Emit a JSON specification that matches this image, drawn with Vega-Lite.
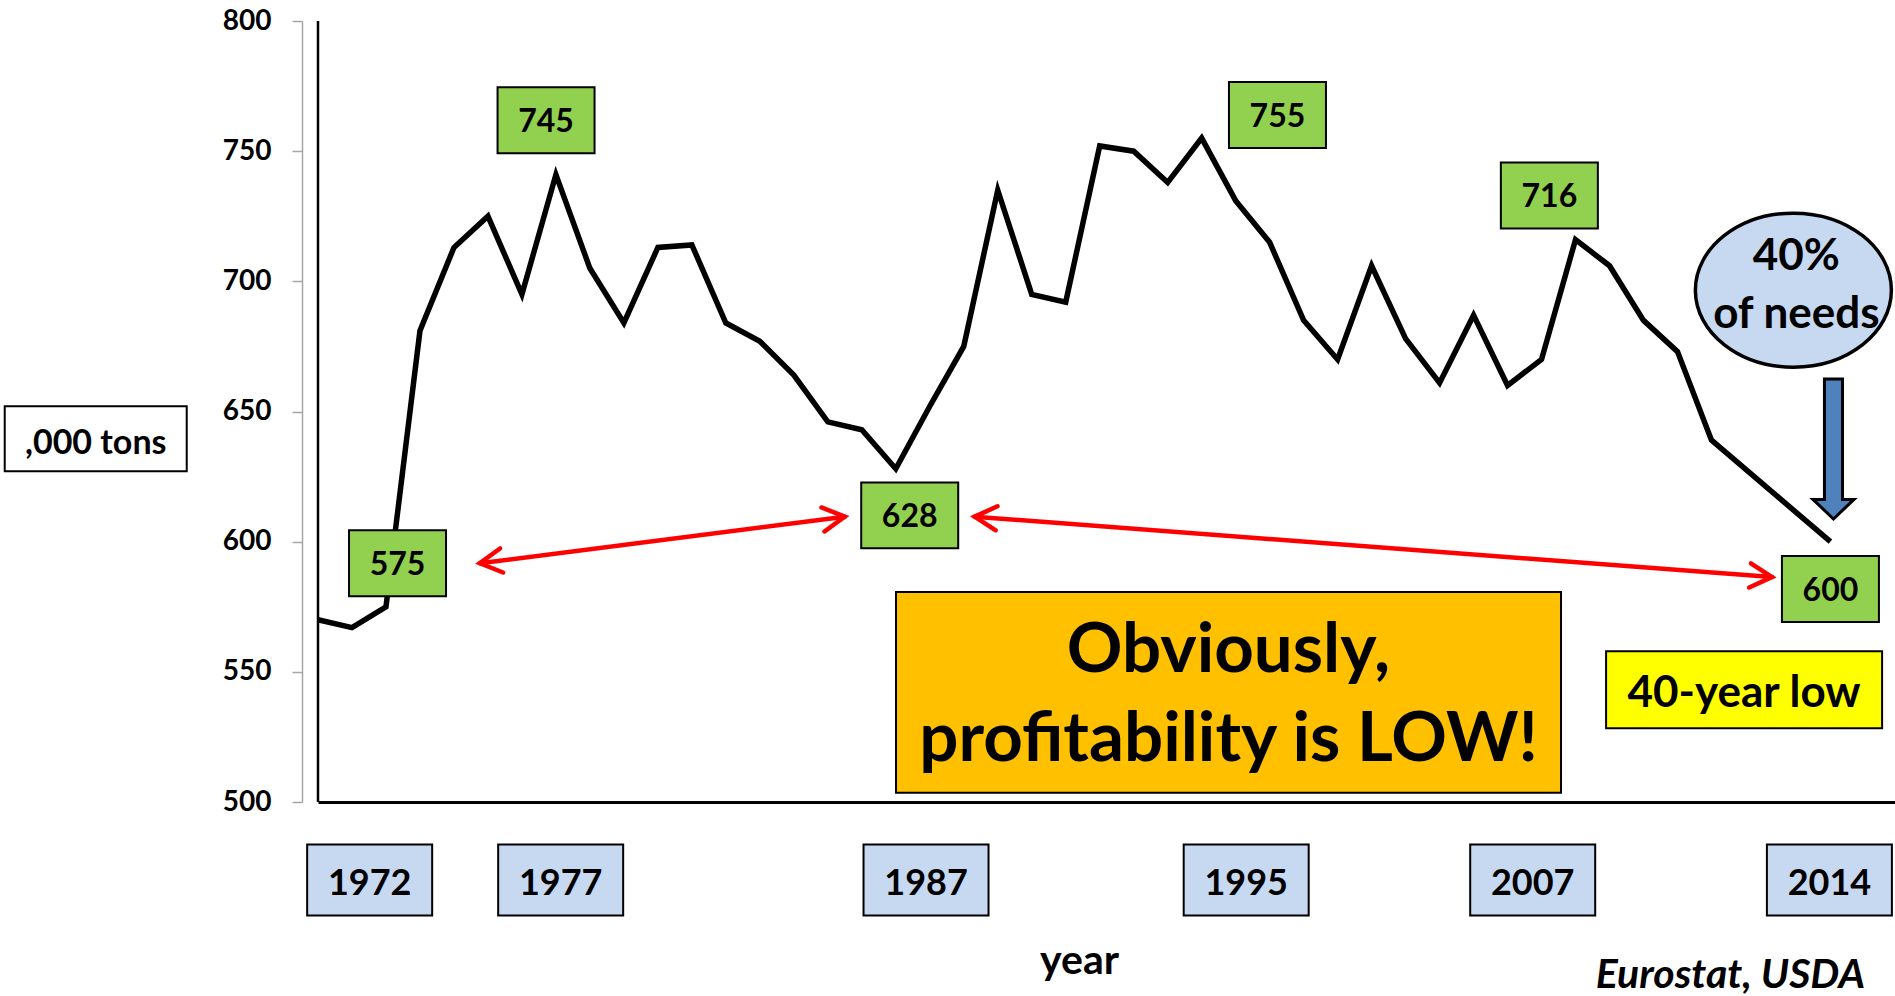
{
  "$schema": "https://vega.github.io/schema/vega-lite/v6.json",
  "width": 1577,
  "height": 781,
  "autosize": {"type": "none"},
  "padding": {"left": 318, "top": 21, "right": 0, "bottom": 194},
  "background": "white",
  "config": {"view": {"stroke": null}, "font": "Lato"},
  "datasets": {
    "series": [
      {"year": 1970, "value": 570}, {"year": 1971, "value": 567}, {"year": 1972, "value": 575},
      {"year": 1973, "value": 681}, {"year": 1974, "value": 713}, {"year": 1975, "value": 725},
      {"year": 1976, "value": 695}, {"year": 1977, "value": 741}, {"year": 1978, "value": 705},
      {"year": 1979, "value": 684}, {"year": 1980, "value": 713}, {"year": 1981, "value": 714},
      {"year": 1982, "value": 684}, {"year": 1983, "value": 677}, {"year": 1984, "value": 664},
      {"year": 1985, "value": 646}, {"year": 1986, "value": 643}, {"year": 1987, "value": 628},
      {"year": 1988, "value": 652}, {"year": 1989, "value": 675}, {"year": 1990, "value": 735},
      {"year": 1991, "value": 695}, {"year": 1992, "value": 692}, {"year": 1993, "value": 752},
      {"year": 1994, "value": 750}, {"year": 1995, "value": 738}, {"year": 1996, "value": 755},
      {"year": 1997, "value": 731}, {"year": 1998, "value": 715}, {"year": 1999, "value": 685},
      {"year": 2000, "value": 670}, {"year": 2001, "value": 706}, {"year": 2002, "value": 678},
      {"year": 2003, "value": 661}, {"year": 2004, "value": 687}, {"year": 2005, "value": 660},
      {"year": 2006, "value": 670}, {"year": 2007, "value": 716}, {"year": 2008, "value": 706},
      {"year": 2009, "value": 685}, {"year": 2010, "value": 673}, {"year": 2011, "value": 639},
      {"year": 2014.5, "value": 600}
    ],
    "frame": [{"year": 1970, "value": 500, "value2": 800}],
    "green": [
      {"label": "745", "year": 1976.71, "value": 761.9},
      {"label": "575", "year": 1972.34, "value": 591.7},
      {"label": "628", "year": 1987.41, "value": 610.1},
      {"label": "755", "year": 1998.23, "value": 763.9},
      {"label": "716", "year": 2006.23, "value": 733.0},
      {"label": "600", "year": 2014.5, "value": 581.8}
    ],
    "years": [
      {"label": "1972", "year": 1971.52, "value": 470},
      {"label": "1977", "year": 1977.14, "value": 470},
      {"label": "1987", "year": 1987.89, "value": 470},
      {"label": "1995", "year": 1997.31, "value": 470},
      {"label": "2007", "year": 2005.74, "value": 470},
      {"label": "2014", "year": 2014.47, "value": 470}
    ],
    "tons": [{"label": ",000 tons", "year": 1963.46, "value": 639.5}],
    "conclusion": [{"label": "Obviously,\nprofitability is LOW!", "year": 1996.79, "value": 542.1}],
    "low": [{"label": "40-year low", "year": 2011.96, "value": 543.1}],
    "needs": [{"label": "40%\nof needs", "year": 2013.41, "value": 696.6}],
    "shareArrow": [{"year": 2014.59, "value": 635.6}],
    "arrows": [
      {"arrow": "a", "year": 1974.76, "value": 591.7, "year2": 1985.5, "value2": 609.6},
      {"arrow": "b", "year": 1989.32, "value": 609.6, "year2": 2012.78, "value2": 586.4}
    ],
    "source": [{"label": "Eurostat, USDA", "year": 2011.56, "value": 428.6}]
  },
  "encoding": {
    "x": {
      "field": "year", "type": "quantitative",
      "scale": {"domain": [1970, 2016.4], "nice": false, "zero": false},
      "axis": {
        "domainColor": "black", "domainWidth": 3, "ticks": false, "labels": false, "grid": false,
        "title": "year", "titleFont": "Lato", "titleFontSize": 41, "titleFontWeight": "bold",
        "titleColor": "black", "titleX": 761, "titleY": 171, "titleAlign": "center", "titleBaseline": "alphabetic"
      }
    },
    "y": {
      "field": "value", "type": "quantitative",
      "scale": {"domain": [500, 800], "nice": false, "zero": false},
      "axis": {
        "values": [500, 550, 600, 650, 700, 750, 800], "offset": 16,
        "domainColor": "#A6A6A6", "domainWidth": 1.5, "tickColor": "#A6A6A6", "tickWidth": 1.5, "tickSize": 10,
        "labelFont": "Lato", "labelFontSize": 28, "labelFontWeight": "bold", "labelColor": "black",
        "labelPadding": 21, "grid": false, "title": null
      }
    }
  },
  "layer": [
    {
      "data": {"name": "series"},
      "mark": {"type": "line", "color": "black", "strokeWidth": 5.5, "strokeJoin": "miter", "strokeMiterLimit": 4}
    },
    {
      "data": {"name": "frame"},
      "mark": {"type": "rule", "color": "black", "strokeWidth": 2.5},
      "encoding": {"y2": {"field": "value2"}}
    },
    {
      "data": {"name": "green"},
      "mark": {"type": "point", "shape": "M -1 -0.68 L 1 -0.68 L 1 0.68 L -1 0.68 Z", "size": 9409, "filled": true, "fill": "#92D050", "stroke": "black", "strokeWidth": 2, "opacity": 1}
    },
    {
      "data": {"name": "green"},
      "mark": {"type": "text", "font": "Lato", "fontSize": 32, "fontWeight": "bold", "color": "black", "align": "center", "baseline": "middle", "dy": 2},
      "encoding": {"text": {"field": "label"}}
    },
    {
      "data": {"name": "years"},
      "mark": {"type": "point", "shape": "M -1 -0.568 L 1 -0.568 L 1 0.568 L -1 0.568 Z", "size": 15625, "filled": true, "fill": "#C6D9F1", "stroke": "black", "strokeWidth": 2, "opacity": 1}
    },
    {
      "data": {"name": "years"},
      "mark": {"type": "text", "font": "Lato", "fontSize": 36, "fontWeight": "bold", "color": "black", "align": "center", "baseline": "middle", "dy": 4},
      "encoding": {"text": {"field": "label"}}
    },
    {
      "data": {"name": "tons"},
      "mark": {"type": "point", "shape": "M -1 -0.357 L 1 -0.357 L 1 0.357 L -1 0.357 Z", "size": 33124, "filled": true, "fill": "white", "stroke": "black", "strokeWidth": 2, "opacity": 1}
    },
    {
      "data": {"name": "tons"},
      "mark": {"type": "text", "font": "Lato", "fontSize": 34, "fontWeight": "bold", "color": "black", "align": "center", "baseline": "middle", "dy": 5},
      "encoding": {"text": {"field": "label"}}
    },
    {
      "data": {"name": "conclusion"},
      "mark": {"type": "point", "shape": "M -1 -0.302 L 1 -0.302 L 1 0.302 L -1 0.302 Z", "size": 442225, "filled": true, "fill": "#FFC000", "stroke": "black", "strokeWidth": 2, "opacity": 1}
    },
    {
      "data": {"name": "conclusion"},
      "mark": {"type": "text", "font": "Lato", "fontSize": 69, "fontWeight": "bold", "color": "black", "align": "center", "baseline": "alphabetic", "lineBreak": "\n", "lineHeight": 89, "dy": -20},
      "encoding": {"text": {"field": "label"}}
    },
    {
      "data": {"name": "low"},
      "mark": {"type": "point", "shape": "M -1 -0.279 L 1 -0.279 L 1 0.279 L -1 0.279 Z", "size": 76176, "filled": true, "fill": "#FFFF00", "stroke": "black", "strokeWidth": 2, "opacity": 1}
    },
    {
      "data": {"name": "low"},
      "mark": {"type": "text", "font": "Lato", "fontSize": 44, "fontWeight": "bold", "color": "black", "align": "center", "baseline": "middle", "dy": 4},
      "encoding": {"text": {"field": "label"}}
    },
    {
      "data": {"name": "arrows"},
      "mark": {"type": "rule", "color": "#FF0000", "strokeWidth": 4.5, "strokeCap": "round"},
      "encoding": {"x2": {"field": "year2"}, "y2": {"field": "value2"}}
    },
    {
      "data": {"name": "arrows"},
      "transform": [{"filter": "datum.arrow === 'a'"}],
      "mark": {"type": "point", "shape": "M -1 -0.55 L 0 0 L -1 0.55", "size": 1936, "filled": false, "stroke": "#FF0000", "strokeWidth": 4.5, "strokeCap": "round", "opacity": 1, "angle": 172.7}
    },
    {
      "data": {"name": "arrows"},
      "transform": [{"filter": "datum.arrow === 'a'"}],
      "mark": {"type": "point", "shape": "M -1 -0.55 L 0 0 L -1 0.55", "size": 1936, "filled": false, "stroke": "#FF0000", "strokeWidth": 4.5, "strokeCap": "round", "opacity": 1, "angle": 352.7},
      "encoding": {"x": {"field": "year2", "type": "quantitative"}, "y": {"field": "value2", "type": "quantitative"}}
    },
    {
      "data": {"name": "arrows"},
      "transform": [{"filter": "datum.arrow === 'b'"}],
      "mark": {"type": "point", "shape": "M -1 -0.55 L 0 0 L -1 0.55", "size": 1936, "filled": false, "stroke": "#FF0000", "strokeWidth": 4.5, "strokeCap": "round", "opacity": 1, "angle": 184.3}
    },
    {
      "data": {"name": "arrows"},
      "transform": [{"filter": "datum.arrow === 'b'"}],
      "mark": {"type": "point", "shape": "M -1 -0.55 L 0 0 L -1 0.55", "size": 1936, "filled": false, "stroke": "#FF0000", "strokeWidth": 4.5, "strokeCap": "round", "opacity": 1, "angle": 4.3},
      "encoding": {"x": {"field": "year2", "type": "quantitative"}, "y": {"field": "value2", "type": "quantitative"}}
    },
    {
      "data": {"name": "needs"},
      "mark": {"type": "point", "shape": "M 1 0 C 1 0.434 0.552 0.786 0 0.786 C -0.552 0.786 -1 0.434 -1 0 C -1 -0.434 -0.552 -0.786 0 -0.786 C 0.552 -0.786 1 -0.434 1 0 Z", "size": 38416, "filled": true, "fill": "#C6D9F1", "stroke": "black", "strokeWidth": 3.5, "opacity": 1}
    },
    {
      "data": {"name": "needs"},
      "mark": {"type": "text", "font": "Lato", "fontSize": 44, "fontWeight": "bold", "color": "black", "align": "center", "baseline": "alphabetic", "lineBreak": "\n", "lineHeight": 58, "dx": 3, "dy": -20},
      "encoding": {"text": {"field": "label"}}
    },
    {
      "data": {"name": "shareArrow"},
      "mark": {"type": "point", "shape": "M -0.129 -1 L 0.129 -1 L 0.129 0.72 L 0.293 0.72 L 0 1 L -0.293 0.72 L -0.129 0.72 Z", "size": 19600, "filled": true, "fill": "#4F81BD", "stroke": "black", "strokeWidth": 3, "opacity": 1}
    },
    {
      "data": {"name": "source"},
      "mark": {"type": "text", "font": "Lato", "fontSize": 41, "fontWeight": "bold", "fontStyle": "italic", "color": "black", "align": "center", "baseline": "alphabetic"},
      "encoding": {"text": {"field": "label"}}
    }
  ]
}
